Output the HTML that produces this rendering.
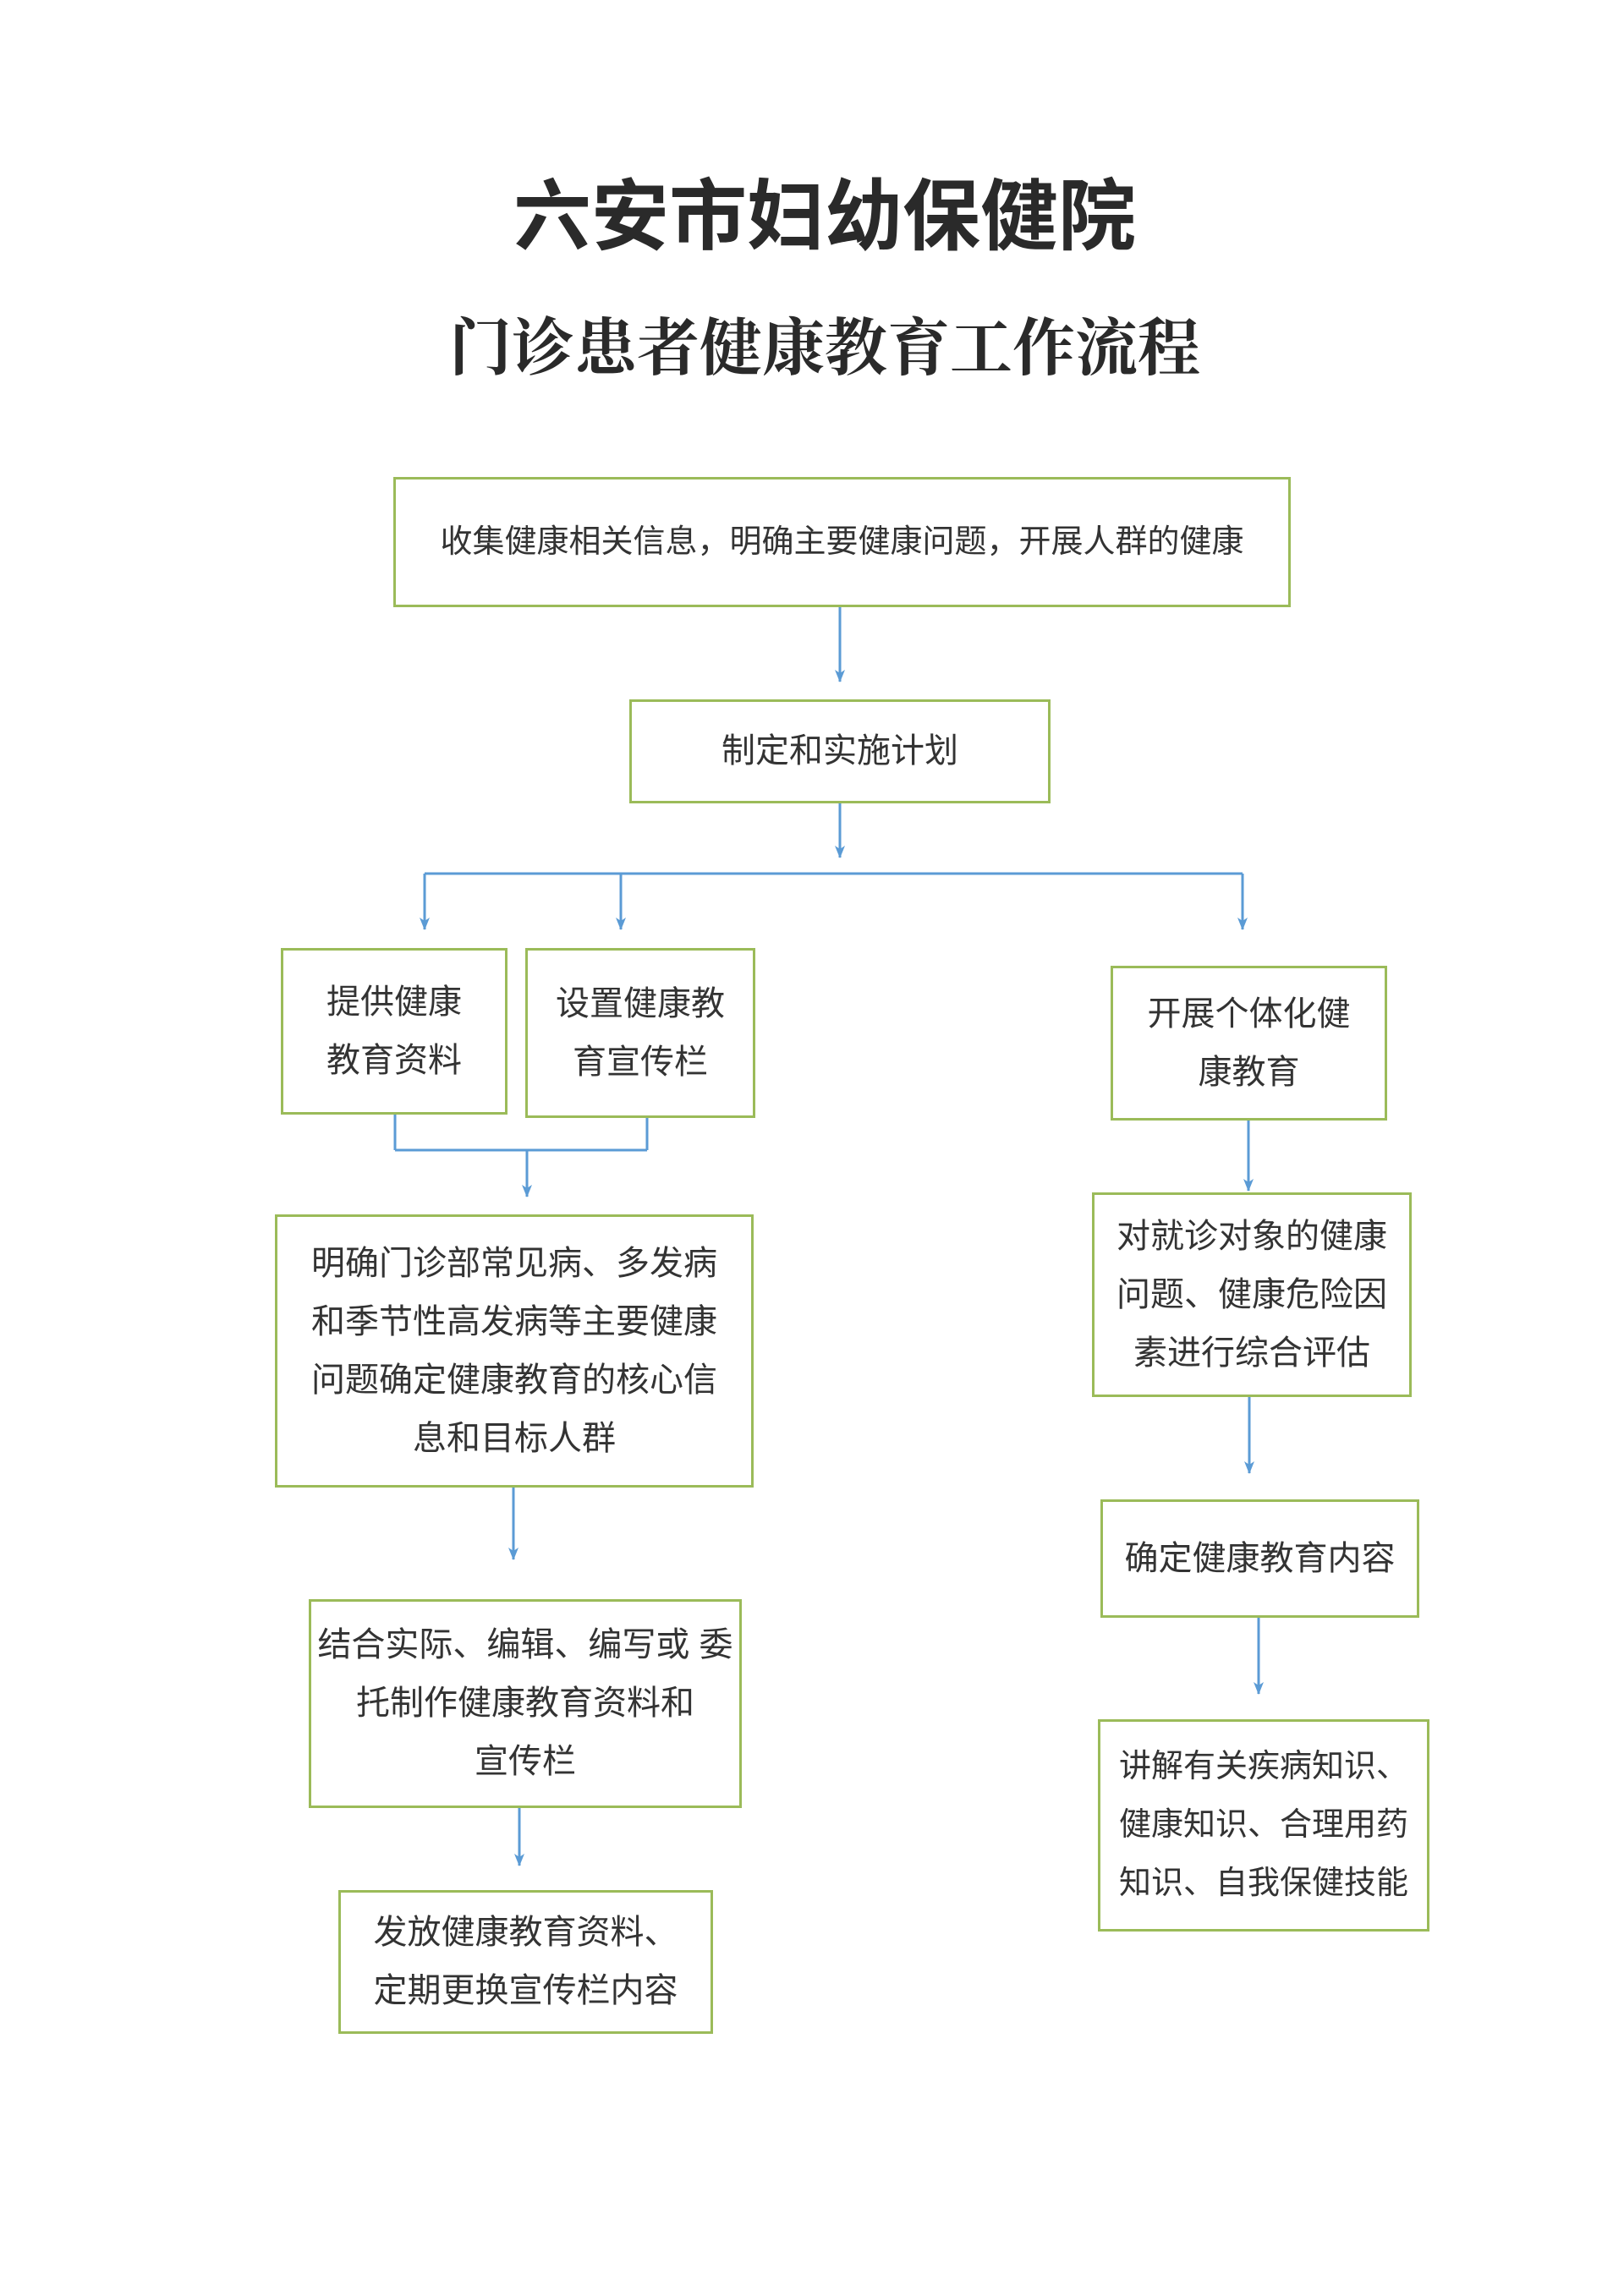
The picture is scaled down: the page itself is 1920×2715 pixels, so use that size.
<!DOCTYPE html>
<html><head><meta charset="utf-8"><style>
html,body{margin:0;padding:0;background:#fff;}
body{width:1920px;height:2715px;position:relative;overflow:hidden;font-family:"Liberation Sans","Noto Sans CJK SC",sans-serif;}
.t1{position:absolute;left:0;width:1920px;top:202px;text-align:center;font-size:92px;font-weight:bold;color:#2a2a2a;line-height:110px;padding-left:30px;box-sizing:border-box;}
.t2{position:absolute;left:0;width:1920px;top:365px;text-align:center;font-size:74px;color:#2a2a2a;line-height:96px;font-family:"Liberation Serif","Noto Serif CJK SC",serif;font-weight:bold;padding-left:30px;box-sizing:border-box;}
.b{position:absolute;box-sizing:border-box;border:3px solid #9bbb59;display:flex;align-items:center;justify-content:center;text-align:center;font-size:40px;line-height:69px;color:#333;padding:0;white-space:nowrap;}
svg{position:absolute;left:0;top:0;}
</style></head><body>
<div class="t1">六安市妇幼保健院</div>
<div class="t2">门诊患者健康教育工作流程</div>

<svg width="1920" height="2715">
<defs><marker id="a" markerWidth="16" markerHeight="14" refX="14" refY="7" orient="auto" markerUnits="userSpaceOnUse"><path d="M0,1 L15,7 L0,13 L4,7 Z" fill="#5b9bd5"/></marker></defs>
<g stroke="#5b9bd5" stroke-width="3" fill="none">
<line x1="993" y1="718" x2="993" y2="806" marker-end="url(#a)"/>
<line x1="993" y1="950" x2="993" y2="1014" marker-end="url(#a)"/>
<line x1="502" y1="1033" x2="1469" y2="1033"/>
<line x1="502" y1="1033" x2="502" y2="1099" marker-end="url(#a)"/>
<line x1="734" y1="1033" x2="734" y2="1099" marker-end="url(#a)"/>
<line x1="1469" y1="1033" x2="1469" y2="1099" marker-end="url(#a)"/>
<line x1="467" y1="1318" x2="467" y2="1360"/>
<line x1="765" y1="1322" x2="765" y2="1360"/>
<line x1="467" y1="1360" x2="765" y2="1360"/>
<line x1="623" y1="1360" x2="623" y2="1415" marker-end="url(#a)"/>
<line x1="607" y1="1759" x2="607" y2="1844" marker-end="url(#a)"/>
<line x1="614" y1="2138" x2="614" y2="2206" marker-end="url(#a)"/>
<line x1="1476" y1="1325" x2="1476" y2="1408" marker-end="url(#a)"/>
<line x1="1477" y1="1652" x2="1477" y2="1742" marker-end="url(#a)"/>
<line x1="1488" y1="1913" x2="1488" y2="2003" marker-end="url(#a)"/>
</g></svg>

<div class="b" style="left:465px;top:564px;width:1061px;height:154px;font-size:38px;">收集健康相关信息，明确主要健康问题，开展人群的健康</div>
<div class="b" style="left:744px;top:827px;width:498px;height:123px;">制定和实施计划</div>
<div class="b" style="left:332px;top:1121px;width:268px;height:197px;">提供健康<br>教育资料</div>
<div class="b" style="left:621px;top:1121px;width:272px;height:201px;">设置健康教<br>育宣传栏</div>
<div class="b" style="left:1313px;top:1142px;width:327px;height:183px;">开展个体化健<br>康教育</div>
<div class="b" style="left:325px;top:1436px;width:566px;height:323px;">明确门诊部常见病、多发病<br>和季节性高发病等主要健康<br>问题确定健康教育的核心信<br>息和目标人群</div>
<div class="b" style="left:365px;top:1891px;width:512px;height:247px;">结合实际、编辑、编写或 委<br>托制作健康教育资料和<br>宣传栏</div>
<div class="b" style="left:400px;top:2235px;width:443px;height:170px;">发放健康教育资料、<br>定期更换宣传栏内容</div>
<div class="b" style="left:1291px;top:1410px;width:378px;height:242px;">对就诊对象的健康<br>问题、健康危险因<br>素进行综合评估</div>
<div class="b" style="left:1301px;top:1773px;width:377px;height:140px;">确定健康教育内容</div>
<div class="b" style="left:1298px;top:2033px;width:392px;height:251px;font-size:38px;">讲解有关疾病知识、<br>健康知识、合理用药<br>知识、自我保健技能</div>
</body></html>
